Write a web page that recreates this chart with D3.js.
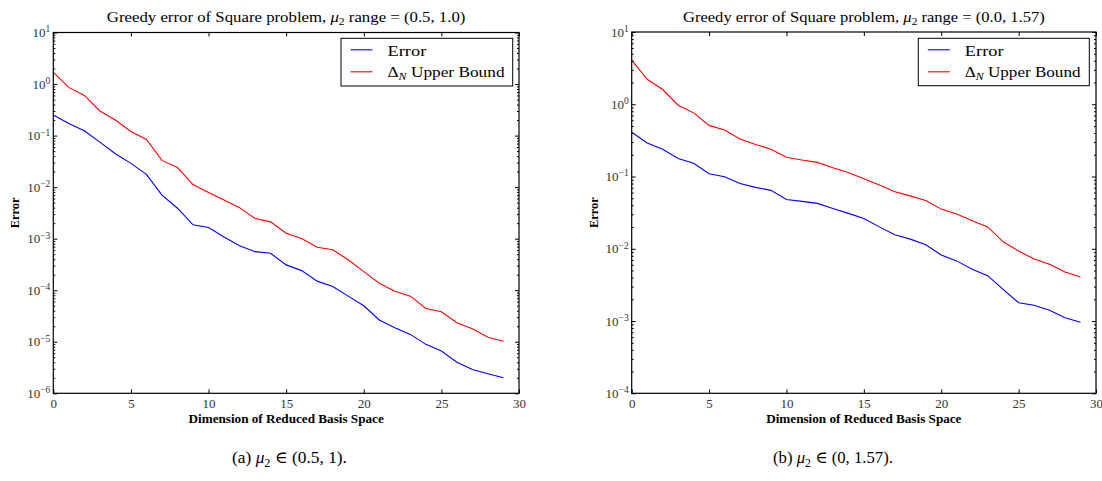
<!DOCTYPE html>
<html>
<head>
<meta charset="utf-8">
<script src="https://cdn.jsdelivr.net/npm/d3@7"></script>
<style>
  html, body { margin: 0; padding: 0; background: #fff; }
  svg { display: block; }
  text { font-family: "Liberation Serif", "DejaVu Serif", serif; }
</style>
</head>
<body>
<svg id="chart" width="1102" height="481"></svg>
<script>
// ---------- data ----------
const dims = d3.range(0, 30);
const leftError = [0.25, 0.171, 0.124, 0.0745, 0.0445, 0.0289, 0.0177, 0.0070, 0.0039, 0.00186,
  0.00165, 0.00108, 0.00073, 0.00056, 0.00052, 0.00031, 0.00024, 0.00015, 0.000118, 0.0000767,
  0.0000499, 0.0000264, 0.0000187, 0.0000139, 0.0000089, 0.0000066, 0.0000040, 0.0000029, 0.0000024, 0.0000020];
const leftBound = [1.68, 0.86, 0.6, 0.30, 0.2, 0.12, 0.084, 0.033, 0.024, 0.0112,
  0.0079, 0.0056, 0.0040, 0.00247, 0.00212, 0.00128, 0.00101, 0.00068, 0.00061, 0.00039,
  0.00023, 0.000137, 0.0000957, 0.0000767, 0.0000443, 0.0000382, 0.0000234, 0.0000179, 0.0000122, 0.0000102];
const rightError = [0.41, 0.292, 0.239, 0.178, 0.153, 0.109, 0.099, 0.080, 0.0707, 0.0643,
  0.0482, 0.0453, 0.0425, 0.0362, 0.0309, 0.0262, 0.0201, 0.0156, 0.0136, 0.0114,
  0.0082, 0.0068, 0.0052, 0.00424, 0.00274, 0.00179, 0.00165, 0.00141, 0.00111, 0.00096];
const rightBound = [4.07, 2.22, 1.6, 0.97, 0.76, 0.51, 0.44, 0.33, 0.278, 0.239,
  0.185, 0.169, 0.157, 0.132, 0.114, 0.093, 0.0765, 0.0615, 0.054, 0.0467,
  0.0354, 0.0302, 0.0244, 0.0201, 0.0125, 0.0093, 0.0072, 0.0061, 0.00476, 0.00406];
const xTicks = [0, 5, 10, 15, 20, 25, 30];
const leftYDomain = [1e-6, 10];
const rightYDomain = [1e-4, 10];
const seriesNames = ["Error", "Upper Bound"];
const leftTitleRange = "(0.5, 1.0)";
const rightTitleRange = "(0.0, 1.57)";
const leftCaption = "(0.5, 1).";
const rightCaption = "(0, 1.57).";
const xLabel = "Dimension of Reduced Basis Space";
const yLabel = "Error";

// ---------- helpers ----------
const svg = d3.select("#chart");

function fitWidth(sel, target, ax) {
  const w = sel.node().getBBox().width;
  if (w > 0) {
    const s = target / w;
    sel.attr("transform", `translate(${ax},0) scale(${s},1) translate(${-ax},0)`);
  }
}

function panel(cfg) {
  const g = svg.append("g");
  const x = d3.scaleLinear().domain([0, 30]).range([cfg.x0, cfg.x1]);
  const y = d3.scaleLog().domain(cfg.yDomain).range([cfg.y1, cfg.y0]);

  const lo = Math.round(Math.log10(cfg.yDomain[0]));
  const hi = Math.round(Math.log10(cfg.yDomain[1]));
  const majors = d3.range(lo, hi + 1).map(e => Math.pow(10, e));
  const minors = [];
  for (let e = lo; e < hi; e++) for (let m = 2; m <= 9; m++) minors.push(m * Math.pow(10, e));

  // lines
  const line = d3.line().x((d, i) => x(dims[i])).y(d => y(d));
  g.append("path").datum(cfg.err).attr("d", line)
    .attr("fill", "none").attr("stroke", "#0000ff").attr("stroke-width", 1.1);
  g.append("path").datum(cfg.bound).attr("d", line)
    .attr("fill", "none").attr("stroke", "#ff0000").attr("stroke-width", 1.1);

  // axes
  const bottom = g.append("g").attr("transform", `translate(0,${cfg.y1})`)
    .call(d3.axisBottom(x).tickValues(xTicks).tickSize(-4).tickPadding(5).tickFormat(d3.format("d")));
  bottom.selectAll("text").attr("font-size", 13).attr("fill", "#333")
    .attr("font-family", "Liberation Serif, serif");
  g.append("g").attr("transform", `translate(0,${cfg.y0})`)
    .call(d3.axisTop(x).tickValues(xTicks).tickSize(-4).tickFormat(""));

  const left = g.append("g").attr("transform", `translate(${cfg.x0},0)`)
    .call(d3.axisLeft(y).tickValues(majors).tickSize(-4).tickPadding(3).tickFormat(""));
  left.selectAll(".tick text").each(function(d) {
    const e = Math.round(Math.log10(d));
    const t = d3.select(this);
    t.attr("font-size", 13).attr("fill", "#333").attr("font-family", "Liberation Serif, serif");
    t.append("tspan").text("10");
    t.append("tspan").attr("font-size", 9.5).attr("dy", "-0.5em")
      .text(e < 0 ? "\u2212" + (-e) : String(e));
  });
  g.append("g").attr("transform", `translate(${cfg.x0},0)`)
    .call(d3.axisLeft(y).tickValues(minors).tickSize(-2).tickFormat(""));
  g.append("g").attr("transform", `translate(${cfg.x1},0)`)
    .call(d3.axisRight(y).tickValues(majors).tickSize(-4).tickFormat(""));
  g.append("g").attr("transform", `translate(${cfg.x1},0)`)
    .call(d3.axisRight(y).tickValues(minors).tickSize(-2).tickFormat(""));
  g.selectAll(".domain").remove();
  g.selectAll(".tick line").attr("stroke", "#000").attr("stroke-width", 1);

  // frame
  g.append("rect").attr("x", cfg.x0).attr("y", cfg.y0)
    .attr("width", cfg.x1 - cfg.x0).attr("height", cfg.y1 - cfg.y0)
    .attr("fill", "none").attr("stroke", "#000").attr("stroke-width", 1.2);

  // title
  const cx = (cfg.x0 + cfg.x1) / 2;
  const title = g.append("text").attr("x", cx).attr("y", 22).attr("text-anchor", "middle")
    .attr("font-size", 14.5).attr("fill", "#000");
  title.append("tspan").text("Greedy error of Square problem, ");
  title.append("tspan").attr("font-style", "italic").text("\u03bc");
  title.append("tspan").attr("font-size", 10).attr("dy", 3).text("2");
  title.append("tspan").attr("dy", -3).text(" range = " + cfg.range);
  fitWidth(title, cfg.titleW, cx);

  // x label
  const xl = g.append("text").attr("x", cx).attr("y", 423).attr("text-anchor", "middle")
    .attr("font-size", 12.5).attr("font-weight", "bold").attr("fill", "#000").text(xLabel);
  fitWidth(xl, 196, cx);

  // y label
  const yg = g.append("g").attr("transform", `translate(${cfg.x0 - 34},${(cfg.y0 + cfg.y1) / 2}) rotate(-90)`);
  const yl = yg.append("text").attr("x", 0).attr("y", 0).attr("text-anchor", "middle")
    .attr("font-size", 12.5).attr("font-weight", "bold").attr("fill", "#000").text(yLabel);
  fitWidth(yl, 31, 0);

  // legend
  const L = cfg.legend;
  g.append("rect").attr("x", L.x).attr("y", L.y).attr("width", L.w).attr("height", L.h)
    .attr("fill", "#fff").attr("stroke", "#000").attr("stroke-width", 1);
  const rows = [{ c: "#0000ff", cy: L.y + 11.5, base: L.y + 17.5 }, { c: "#ff0000", cy: L.y + 33.5, base: L.y + 38.5 }];
  rows.forEach(r => {
    g.append("line").attr("x1", L.x + 9.5).attr("x2", L.x + 31.5).attr("y1", r.cy).attr("y2", r.cy)
      .attr("stroke", r.c).attr("stroke-width", 1.1);
  });
  const tx = L.x + 46.5;
  const t1 = g.append("text").attr("x", tx).attr("y", rows[0].base).attr("font-size", 14.5)
    .attr("fill", "#000").text(seriesNames[0]);
  fitWidth(t1, 39, tx);
  const t2 = g.append("text").attr("x", tx).attr("y", rows[1].base).attr("font-size", 14.5).attr("fill", "#000");
  t2.append("tspan").text("\u0394");
  t2.append("tspan").attr("font-style", "italic").attr("font-size", 10).attr("dy", 3).text("N");
  t2.append("tspan").attr("dy", -3).text(" " + seriesNames[1]);
  fitWidth(t2, L.tw, tx);

  // caption
  const cap = svg.append("text").attr("x", cfg.capX).attr("y", 463).attr("text-anchor", "middle")
    .attr("font-size", 17).attr("fill", "#000");
  cap.append("tspan").text(cfg.capLabel + " ");
  cap.append("tspan").attr("font-style", "italic").text("\u03bc");
  cap.append("tspan").attr("font-size", 12).attr("dy", 4).text("2");
  cap.append("tspan").attr("dy", -4).text(" \u2208 " + cfg.cap);
  fitWidth(cap, cfg.capW, cfg.capX);
}

panel({
  x0: 53.3, x1: 519, y0: 32.5, y1: 393.3, yDomain: leftYDomain,
  err: leftError, bound: leftBound, range: leftTitleRange, titleW: 359,
  legend: { x: 341, y: 38.3, w: 171.7, h: 47.7, tw: 118 },
  capX: 289.5, capLabel: "(a)", cap: leftCaption, capW: 115
});
panel({
  x0: 631.7, x1: 1096, y0: 32, y1: 393.3, yDomain: rightYDomain,
  err: rightError, bound: rightBound, range: rightTitleRange, titleW: 362,
  legend: { x: 918.3, y: 38.3, w: 171, h: 47.4, tw: 116.7 },
  capX: 833, capLabel: "(b)", cap: rightCaption, capW: 120
});
</script>
</body>
</html>
